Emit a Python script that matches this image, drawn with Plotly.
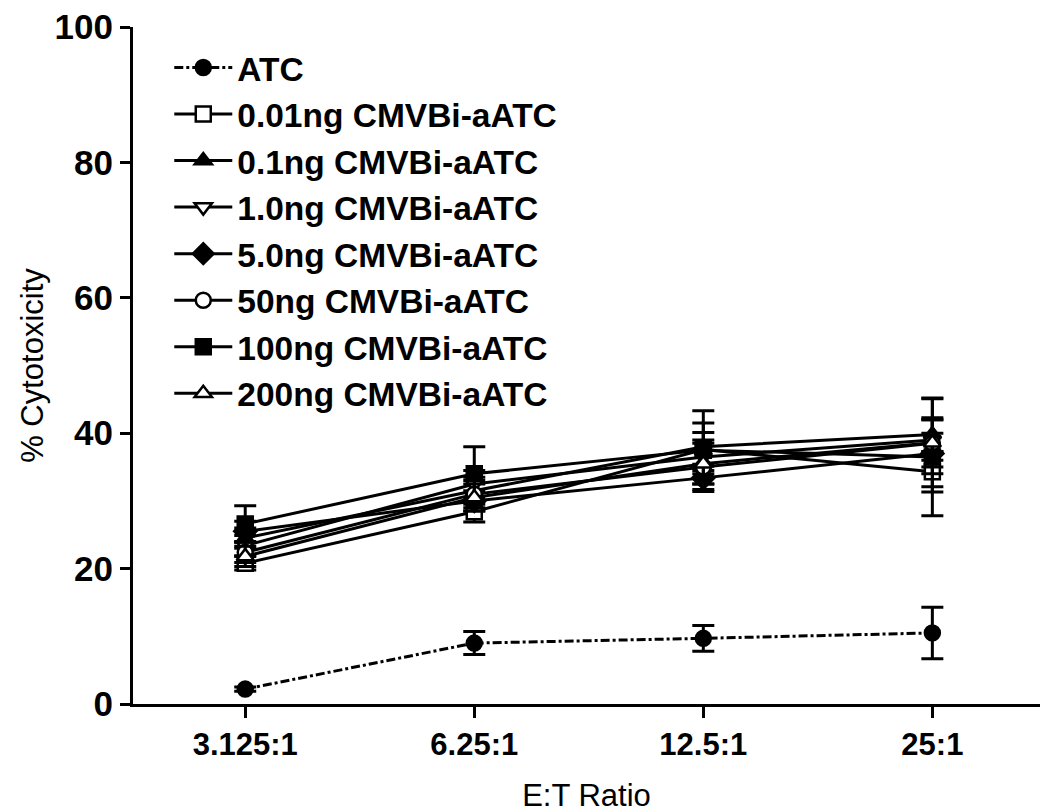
import plotly.graph_objects as go

categories = ["3.125:1", "6.25:1", "12.5:1", "25:1"]

series_names = [
    "ATC",
    "0.01ng CMVBi-aATC",
    "0.1ng CMVBi-aATC",
    "1.0ng CMVBi-aATC",
    "5.0ng CMVBi-aATC",
    "50ng CMVBi-aATC",
    "100ng CMVBi-aATC",
    "200ng CMVBi-aATC",
]

atc = [2.2, 9.0, 9.7, 10.5]
atc_err = [0.3, 1.7, 1.9, 3.8]

ng001 = [20.8, 28.4, 37.6, 34.3]
ng001_err = [1.0, 1.5, 2.5, 3.0]
ng01 = [24.5, 31.5, 38.0, 39.8]
ng01_err = [1.5, 2.0, 3.5, 2.5]
ng1 = [23.4, 32.5, 36.5, 39.0]
ng1_err = [1.5, 2.0, 2.5, 3.0]
ng5 = [25.5, 30.0, 33.4, 37.0]
ng5_err = [1.5, 1.5, 2.0, 3.0]
ng50 = [22.4, 31.0, 35.0, 38.5]
ng50_err = [1.5, 2.0, 2.5, 3.5]
ng100 = [26.6, 34.0, 37.5, 36.5]
ng100_err = [2.7, 4.0, 5.8, 8.7]
ng200 = [21.8, 30.5, 35.5, 38.6]
ng200_err = [1.5, 2.0, 3.0, 6.5]

values = [atc, ng001, ng01, ng1, ng5, ng50, ng100, ng200]
errors = [atc_err, ng001_err, ng01_err, ng1_err, ng5_err, ng50_err, ng100_err, ng200_err]

symbols = ["circle", "square", "triangle-up", "triangle-down", "diamond", "circle", "square", "triangle-up"]
filled = [True, False, True, False, True, False, True, False]
dashes = ["dashdot"] + ["solid"] * 7

fig = go.Figure()
for i, name in enumerate(series_names):
    fig.add_trace(go.Scatter(
        x=categories,
        y=values[i],
        name=name,
        mode="lines+markers",
        legendgroup=f"g{i}",
        line=dict(color="black", width=3, dash=dashes[i]),
        marker=dict(
            symbol=symbols[i],
            size=15 if symbols[i] != "diamond" else 17,
            color="black" if filled[i] else "white",
            line=dict(color="black", width=2.5),
        ),
        error_y=dict(type="data", array=errors[i], visible=True,
                     color="black", thickness=3, width=11),
    ))

fig.update_layout(
    width=1050,
    height=812,
    paper_bgcolor="white",
    plot_bgcolor="white",
    margin=dict(l=125, r=18, t=19, b=116),
    font=dict(family="Liberation Sans, Arial, sans-serif", color="black"),
    showlegend=True,
    legend=dict(
        x=0.04, y=0.982, xanchor="left", yanchor="top",
        bgcolor="rgba(0,0,0,0)",
        font=dict(size=33.5, color="black", weight="bold"),
        traceorder="grouped",
        tracegroupgap=0,
        itemwidth=58,
    ),
    xaxis=dict(
        type="category",
        range=[-0.49, 3.47],
        automargin=False,
        showline=True, linecolor="black", linewidth=3,
        ticks="outside", ticklen=11, tickwidth=3, tickcolor="black",
        showgrid=False, zeroline=False,
        ticklabeloverflow="allow",
        tickfont=dict(size=31, family="Liberation Sans, Arial", color="black", weight="bold"),
        title=dict(text="E:T Ratio", font=dict(size=31, color="black"), standoff=24),
    ),
    yaxis=dict(
        range=[0, 100],
        automargin=False,
        tickvals=[0, 20, 40, 60, 80, 100],
        showline=True, linecolor="black", linewidth=3,
        ticks="outside", ticklen=10, tickwidth=3, tickcolor="black",
        showgrid=False, zeroline=False,
        ticklabeloverflow="allow",
        tickfont=dict(size=35, family="Liberation Sans, Arial", color="black", weight="bold"),
        title=dict(text="% Cytotoxicity", font=dict(size=31, color="black"), standoff=2),
    ),
)

fig.write_html("out.html")
